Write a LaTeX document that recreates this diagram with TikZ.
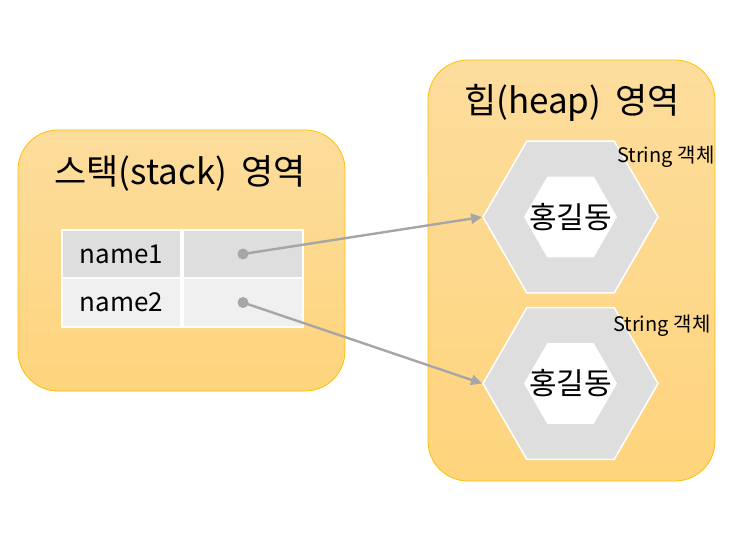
\documentclass[tikz,border=0pt]{standalone}
\usepackage{fontspec}
\setmainfont{Noto Sans CJK KR}
\usetikzlibrary{shapes.geometric,arrows.meta}
\definecolor{areatop}{HTML}{FDDD9D}
\definecolor{areabot}{HTML}{FED47C}
\definecolor{arealine}{HTML}{FFC000}
\definecolor{ptrgray}{HTML}{A6A6A6}
\begin{document}
\begin{tikzpicture}[x=1pt,y=-1pt,
  area/.style={draw=arealine,line width=0.8pt,rounded corners=40pt,top color=areatop,bottom color=areabot},
  title/.style={font=\fontsize{35}{42}\selectfont,inner sep=0pt},
  cell/.style={draw=white,line width=2pt,minimum height=48.5pt,minimum width=119.5pt,inner sep=0pt,font=\fontsize{26}{30}\selectfont},
  hexout/.style={regular polygon,regular polygon sides=6,minimum size=175pt,inner sep=0pt,fill=black!13,draw=white,line width=1.5pt},
  hexin/.style={regular polygon,regular polygon sides=6,minimum size=93pt,inner sep=0pt,fill=white},
  hexname/.style={font=\fontsize{30}{36}\selectfont,inner sep=0pt},
  objlabel/.style={font=\fontsize{20}{24}\selectfont,inner sep=0pt},
  dot/.style={circle,fill=ptrgray,minimum size=11pt,inner sep=0pt},
  ptr/.style={ptrgray,line width=2.4pt,-{Triangle[length=11pt,width=10pt]}}]
\useasboundingbox (0,0) rectangle (739,547);
% stack area
\draw[area] (18,130) rectangle (345,391);
\node[title] (stacktitle) at (180,173) {스택(stack)\hspace{0.4em}영역};
\node[cell,fill=black!13] (name1) at (121.5,254) {name1};
\node[cell,fill=black!13,anchor=west] (val1) at (name1.east) {};
\node[cell,fill=black!6] (name2) at (121.5,302.5) {name2};
\node[cell,fill=black!6,anchor=west] (val2) at (name2.east) {};
\node[dot] (ref1) at (val1.center) {};
\node[dot] (ref2) at (val2.center) {};
% heap area
\draw[area] (428,60) rectangle (715,481);
\node[title] (heaptitle) at (572,103) {힙(heap)\hspace{0.4em}영역};
\node[hexout] (obj1) at (570.5,217) {};
\node[hexin] at (obj1) {};
\node[hexname] (str1) at (obj1) {홍길동};
\node[objlabel] (lab1) at (666,157) {String\hspace{0.25em}객체};
\node[hexout] (obj2) at (570.5,383.5) {};
\node[hexin] at (obj2) {};
\node[hexname] (str2) at (obj2) {홍길동};
\node[objlabel] (lab2) at (662,326) {String\hspace{0.25em}객체};
% references
\draw[ptr] (ref1.center) -- (obj1.west);
\draw[ptr] (ref2.center) -- (obj2.west);
\end{tikzpicture}
\end{document}
